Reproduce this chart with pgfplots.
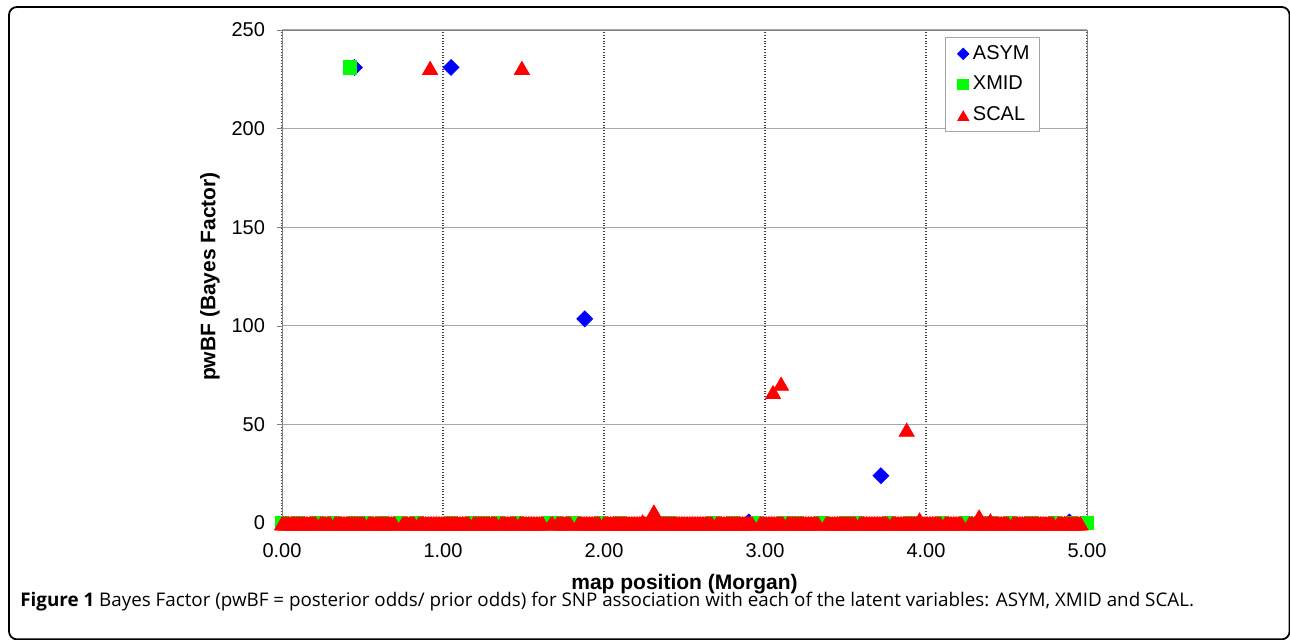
\documentclass[border=0pt]{standalone}
\usepackage{pgfplots}
\pgfplotsset{compat=1.18}
\usepackage{fontspec}
\setmainfont{Liberation Sans}
\newfontfamily\capfont{Open Sans}

\begin{document}
\begin{tikzpicture}
\useasboundingbox (0,0) rectangle (645pt,320pt);
\draw[line width=0.9pt, rounded corners=4pt] (4.5pt,0.3pt) rectangle (644.8pt,316.5pt);
\begin{axis}[
    at={(141pt,58.5pt)}, anchor=south west,
    scale only axis, width=402.5pt, height=246.5pt,
    xmin=0, xmax=5, ymin=0, ymax=250,
    clip=false,
    axis line style={gray},
    xtick={0,1,2,3,4,5}, ytick={0,50,100,150,200,250},
    tick pos=left, tick align=outside, major tick length=2.5pt,
    tick style={gray},
    xmajorgrids, ymajorgrids,
    y grid style={gray!70, line width=0.5pt},
    x grid style={black!75, densely dotted, line width=0.6pt},
    tick label style={font=\fontsize{10}{12}\selectfont},
    /pgf/number format/assume math mode=true,
    yticklabel style={xshift=-2.5pt},
    xticklabel style={yshift=-4pt, /pgf/number format/fixed, /pgf/number format/fixed zerofill, /pgf/number format/precision=2},
    xlabel={map position (Morgan)},
    ylabel={pwBF (Bayes Factor)},
    every axis x label/.style={at={(axis description cs:0.5,0)}, yshift=-30.5pt, anchor=center, font=\bfseries\fontsize{10.5}{12}\selectfont},
    every axis y label/.style={at={(axis description cs:0,0.5)}, xshift=-36pt, rotate=90, anchor=center, font=\bfseries\fontsize{10.5}{12}\selectfont},
    legend image code/.code={\path[draw=none, fill=none] (-0.06cm,0cm) rectangle (0.15cm,0cm); \draw[#1] plot coordinates {(0.15cm,0cm)};},
    legend style={at={(rel axis cs:1,1)}, anchor=north east, xshift=-23.5pt, yshift=-3.5pt,
        draw=gray!70, font=\fontsize{10}{12}\selectfont, row sep=2.8pt, inner xsep=3pt, inner ysep=2pt},
    legend cell align=left,
]
% ASYM
\addplot[only marks, color=blue, mark=square*, mark size=2.8pt, mark options={rotate=45},
    legend image post style={mark size=2pt}] coordinates {
    (0.45,231) (1.05,231) (1.88,103.5) (3.72,24) (2.90,0.5) (4.89,0.5)
};
\addlegendentry{ASYM}
% XMID
\addplot[only marks, color=green, mark=square*, mark size=3.3pt,
    legend image post style={mark size=2.7pt}] coordinates {
    (0.42,231)
    (0,0) (0.10,0) (0.22,0) (0.32,0) (0.45,0) (0.52,0) (0.62,0) (0.73,0) (0.84,0) (1.05,0)
    (1.18,0) (1.25,0) (1.34,0) (1.46,0) (1.65,0) (1.70,0) (1.81,0) (1.98,0) (2.10,0) (2.40,0)
    (2.68,0) (2.80,0) (2.95,0) (3.12,0) (3.20,0) (3.35,0) (3.50,0) (3.57,0) (3.77,0) (3.90,0)
    (4.10,0) (4.25,0) (4.40,0) (4.52,0) (4.65,0) (4.80,0) (4.90,0) (5.00,0)
};
\addlegendentry{XMID}
% SCAL
\addplot[only marks, color=red, mark=triangle*, mark size=4.33pt, mark options={yshift=-1.3pt},
    legend image post style={mark size=3.2pt}] coordinates {
    (0.92,231) (1.49,231) (3.05,66.6) (3.10,70.8) (3.88,47.5)
    (0.00,0) (0.01,0) (0.02,0) (0.03,0) (0.04,0) (0.05,0) (0.06,0) (0.07,0) (0.08,0) (0.09,0)
    (0.10,0) (0.11,0) (0.12,0) (0.13,0) (0.14,0) (0.15,0) (0.16,0) (0.17,0) (0.18,0) (0.19,0)
    (0.20,0) (0.21,0) (0.24,0) (0.25,0) (0.26,0) (0.27,0) (0.28,0) (0.29,0)
    (0.30,0) (0.33,0) (0.34,0) (0.35,0) (0.36,0) (0.37,0) (0.38,0) (0.39,0)
    (0.40,0) (0.41,0) (0.42,0) (0.43,0) (0.44,0) (0.45,0) (0.46,0) (0.47,0) (0.48,0) (0.49,0)
    (0.50,0) (0.51,0) (0.54,0) (0.55,0) (0.56,0) (0.57,0) (0.58,0) (0.59,0)
    (0.60,0) (0.61,0) (0.62,0) (0.63,0) (0.64,0) (0.65,0) (0.66,0) (0.67,0) (0.68,0) (0.69,0)
    (0.70,0) (0.75,0) (0.76,0) (0.77,0) (0.78,0) (0.79,0)
    (0.80,0) (0.81,0) (0.82,0) (0.85,0) (0.86,0) (0.87,0) (0.88,0) (0.89,0)
    (0.90,0) (0.91,0) (0.92,0) (0.93,0) (0.94,0) (0.95,0) (0.96,0) (0.97,0) (0.98,0) (0.99,0)
    (1.00,0) (1.01,0) (1.02,0) (1.03,0) (1.04,0) (1.05,0) (1.06,0) (1.07,0) (1.08,0) (1.09,0)
    (1.10,0) (1.11,0) (1.12,0) (1.13,0) (1.14,0) (1.15,0) (1.16,0) (1.19,0)
    (1.20,0) (1.21,0) (1.22,0) (1.23,0) (1.24,0) (1.25,0) (1.26,0) (1.27,0) (1.28,0) (1.29,0)
    (1.30,0) (1.31,0) (1.32,0) (1.33,0) (1.36,0) (1.37,0) (1.38,0) (1.39,0)
    (1.40,0) (1.41,0) (1.42,0) (1.43,0) (1.44,0) (1.45,0) (1.48,0) (1.49,0)
    (1.50,0) (1.51,0) (1.52,0) (1.53,0) (1.54,0) (1.55,0) (1.56,0) (1.57,0) (1.58,0) (1.59,0)
    (1.60,0) (1.61,0) (1.62,0) (1.67,0) (1.68,0)
    (1.71,0) (1.72,0) (1.73,0) (1.74,0) (1.75,0) (1.76,0) (1.77,0) (1.78,0) (1.79,0)
    (1.84,0) (1.85,0) (1.86,0) (1.87,0) (1.88,0) (1.89,0)
    (1.90,0) (1.91,0) (1.92,0) (1.93,0) (1.94,0) (1.95,0) (1.96,0) (1.97,0)
    (2.00,0) (2.01,0) (2.02,0) (2.03,0) (2.04,0) (2.05,0) (2.06,0) (2.07,0) (2.08,0) (2.09,0)
    (2.10,0) (2.11,0) (2.12,0) (2.13,0) (2.14,0) (2.15,0) (2.16,0) (2.17,0) (2.18,0) (2.19,0)
    (2.20,0) (2.21,0) (2.22,0) (2.23,0) (2.24,1) (2.25,0) (2.26,0) (2.27,0) (2.28,0) (2.29,0)
    (2.30,0) (2.31,6) (2.32,0) (2.33,0) (2.34,0) (2.35,0) (2.36,0) (2.37,0) (2.38,0) (2.39,0)
    (2.40,0) (2.41,0) (2.42,0) (2.43,0) (2.44,0) (2.45,0) (2.46,0) (2.47,0) (2.48,0) (2.49,0)
    (2.50,0) (2.51,0) (2.52,0) (2.53,0) (2.54,0) (2.55,0) (2.56,0) (2.57,0) (2.58,0) (2.59,0)
    (2.60,0) (2.61,0) (2.62,0) (2.63,0) (2.64,0) (2.65,0) (2.66,0) (2.67,0)
    (2.70,0) (2.71,0) (2.72,0) (2.73,0) (2.74,0) (2.75,0) (2.76,0) (2.77,0) (2.78,0) (2.79,0)
    (2.80,0) (2.81,0) (2.82,0) (2.83,0) (2.84,0) (2.85,0) (2.86,0) (2.87,0) (2.88,0) (2.89,0)
    (2.90,0) (2.91,0) (2.92,0) (2.97,0) (2.98,0) (2.99,0)
    (3.00,0) (3.01,0) (3.02,0) (3.03,0) (3.04,0) (3.05,0) (3.06,0) (3.07,0) (3.08,0) (3.09,0)
    (3.10,0) (3.11,0) (3.14,0) (3.15,0) (3.16,0) (3.17,0) (3.18,0) (3.19,0)
    (3.20,0) (3.21,0) (3.22,0) (3.23,0) (3.24,0) (3.25,0) (3.26,0) (3.27,0) (3.28,0) (3.29,0)
    (3.30,0) (3.31,0) (3.32,0) (3.33,0) (3.38,0) (3.39,0)
    (3.40,0) (3.41,0) (3.42,0) (3.43,0) (3.44,0) (3.45,0) (3.46,0) (3.47,0) (3.48,0) (3.49,0)
    (3.50,0) (3.51,0) (3.52,0) (3.53,0) (3.54,0) (3.55,0) (3.56,0) (3.59,0)
    (3.60,0) (3.61,0) (3.62,0) (3.63,0) (3.64,0) (3.65,0) (3.66,0) (3.67,0) (3.68,0) (3.69,0)
    (3.70,0) (3.71,0) (3.72,0) (3.73,0) (3.74,0) (3.75,0) (3.76,0) (3.79,0)
    (3.80,0) (3.81,0) (3.82,0) (3.83,0) (3.84,0) (3.85,0) (3.86,0) (3.87,0) (3.88,0) (3.89,0)
    (3.90,0) (3.91,0) (3.92,0) (3.93,0) (3.94,0) (3.95,0) (3.96,2) (3.97,0) (3.98,0) (3.99,0)
    (4.00,0) (4.01,0) (4.02,0) (4.03,0) (4.04,0) (4.05,0) (4.06,0) (4.07,0) (4.08,0) (4.09,0)
    (4.12,0) (4.13,0) (4.14,0) (4.15,0) (4.16,0) (4.17,0) (4.18,0) (4.19,0)
    (4.20,0) (4.21,0) (4.22,0) (4.27,0) (4.28,0) (4.29,0)
    (4.30,0) (4.31,0) (4.32,0) (4.33,3.5) (4.34,0) (4.35,0) (4.36,0) (4.37,0) (4.38,0) (4.39,0)
    (4.40,1.5) (4.41,0) (4.42,0) (4.43,0) (4.44,0) (4.45,0) (4.46,0) (4.47,0) (4.48,0) (4.49,0)
    (4.50,0) (4.51,0) (4.54,0) (4.55,0) (4.56,0) (4.57,0) (4.58,0) (4.59,0)
    (4.60,0) (4.61,0) (4.62,0) (4.63,0) (4.64,0) (4.65,0) (4.66,0) (4.67,0) (4.68,0) (4.69,0)
    (4.70,0) (4.71,0) (4.72,0) (4.73,0) (4.74,0) (4.75,0) (4.76,0) (4.77,0) (4.78,0) (4.79,0)
    (4.82,0) (4.83,0) (4.84,0) (4.85,0) (4.86,0) (4.87,0) (4.88,0) (4.89,0)
    (4.90,0) (4.91,0) (4.92,0) (4.93,0) (4.94,0) (4.95,0) (4.96,0)
};
\addlegendentry{SCAL}
\end{axis}
\node[anchor=base west, inner sep=0pt] at (10pt,16.5pt)
    {\capfont\fontsize{9.4}{11}\selectfont\textbf{Figure 1} Bayes Factor (pwBF = posterior odds/ prior odds) for SNP association with each of the latent variables: ASYM, XMID and SCAL.};
\end{tikzpicture}
\end{document}
